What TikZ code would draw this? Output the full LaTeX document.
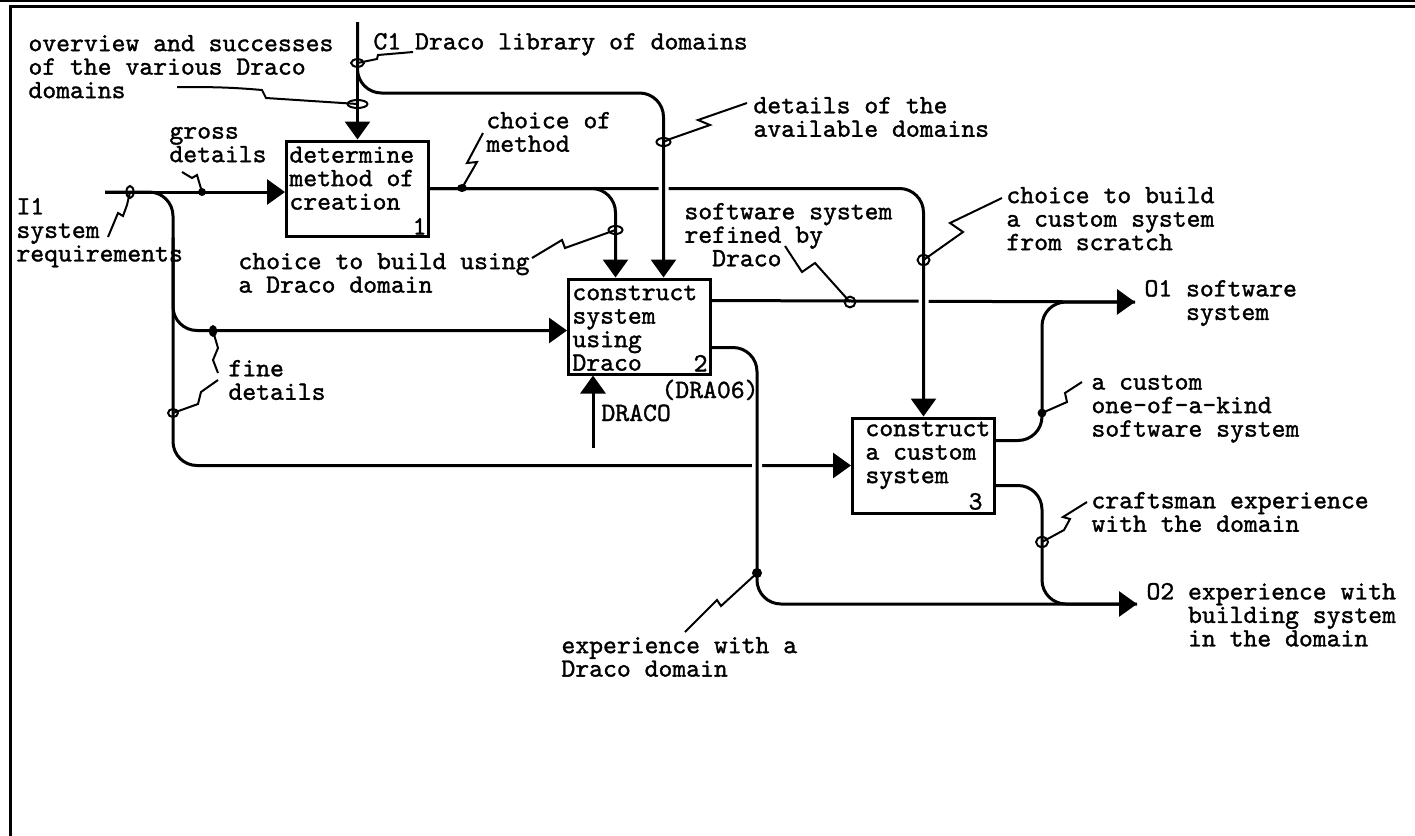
\documentclass[tikz,border=0pt]{standalone}
\usepackage{fontspec}
\setmonofont[FakeBold=1.3]{lmmono10-regular.otf}
\usetikzlibrary{arrows.meta,calc}

\begin{document}
\begin{tikzpicture}[x=0.5pt,y=-0.5pt,
    >={Triangle[length=9pt,width=12.5pt]},line width=1.5pt,
    box/.style={draw,line width=1.5pt,inner sep=0,minimum width=71pt,minimum height=47.5pt},
    lbl/.style={anchor=north west,inner sep=0,align=left,execute at begin node=\strut,
        font=\fontsize{13.2}{11.75}\selectfont\ttfamily},
    num/.style={lbl,anchor=base east},
    sq/.style={line width=1pt},
    over/.style={preaction={draw=white,line width=5pt,-,shorten <=2pt,shorten >=9pt}}]
    \useasboundingbox (0,0) rectangle (1415,836);
    % frame
    \draw[line width=1.2pt] (0,1) -- (1415,1);
    \draw (10,836) -- (10,6) -- (1415,6);

    % activities
    \node[box] (b1) at (357.5,188.5) {};
    \node[box] (b2) at (639.5,326.5) {};
    \node[box] (b3) at (923.5,465.5) {};
    \node[lbl] (t1) at ($(b1.north west)+(3,5.5)$) {determine\\method of\\creation};
    \node[lbl] (t2) at ($(b2.north west)+(4,6.5)$) {construct\\system\\using\\Draco};
    \node[lbl] (t3) at ($(b3.north west)+(13,3.5)$) {construct\\a custom\\system};
    \node[num] (n1) at ($(b1.south east)+(-2,-3)$) {1};
    \node[num] (n2) at ($(b2.south east)+(-3,-4)$) {2};
    \node[num] (n3) at ($(b3.south east)+(-12,-5)$) {3};

    % ends of the arrows
    \coordinate (c1) at (357.5,22);
    \coordinate (c1b) at (663.5,93);
    \coordinate (i1) at (105,192);
    \coordinate (iv) at (173,192);
    \coordinate (o1) at (1135,302);
    \coordinate (o2) at (1137,604);
    \coordinate (mech) at (593,448);

    % outputs to O1
    \draw[->] ($(b2.north east)+(0,23)$) -- (o1);
    \draw[rounded corners=12pt] ($(b3.north east)+(0,24)$) -| (1042,302) -- (o1);
    % choice of method
    \draw[->,rounded corners=12pt,over] (b1.east) -| (b3.north);
    \draw[->,rounded corners=12pt] (b1.east) -| ($(b2.north)+(-24,0)$);
    % C1
    \draw[->,rounded corners=12pt,over] (c1) |- (c1b) -- (c1b |- b2.north);
    \draw[->] (c1) -- (b1.north);
    % I1
    \draw[->] (i1) -- (b1.west |- i1);
    \draw[->,rounded corners=12pt] (i1) -| (iv |- b3.west) -- (b3.west);
    \draw[->,rounded corners=12pt] (iv |- b1.south) -- (173,330.5) -- ([yshift=-2pt]b2.west);
    % outputs to O2
    \draw[->,rounded corners=12pt,over] ($(b2.north east)+(0,70)$) -| (757,604) -- (o2);
    \draw[rounded corners=12pt] ($(b3.north east)+(0,69)$) -| (1042,604) -- (o2);
    % mechanism
    \draw[->] (mech) -- (mech |- b2.south);

    % labels
    \node[lbl] (l-ov) at (27,33.5) {overview and successes\\of the various Draco\\domains};
    \node[lbl] (l-c1) at (372,31.5) {C1 Draco library of domains};
    \node[lbl] (l-det) at (752,95.5) {details of the\\available domains};
    \node[lbl] (l-gross) at (168,125.5) {gross\\details};
    \node[lbl] (l-meth) at (485,110.5) {choice of\\method};
    \node[lbl] (l-i1) at (15,196.5) {I1\\system\\requirements};
    \node[lbl] (l-using) at (237,251.5) {choice to build using\\a Draco domain};
    \node[lbl] (l-ref) at (683,201.5) {software system\\refined by\\\phantom{so}Draco};
    \node[lbl] (l-scr) at (1005,185.5) {choice to build\\a custom system\\from scratch};
    \node[lbl] (l-o1) at (1143,278.5) {O1 software\\\phantom{O1 }system};
    \node[lbl] (l-kind) at (1090,373.5) {a custom\\one-of-a-kind\\software system};
    \node[lbl] (l-fine) at (227,358.5) {fine\\details};
    \node[lbl] (l-craft) at (1090,490.5) {craftsman experience\\with the domain};
    \node[lbl] (l-o2) at (1145,581.5) {O2 experience with\\\phantom{O2 }building system\\\phantom{O2 }in the domain};
    \node[lbl] (l-exp) at (560,635.5) {experience with a\\Draco domain};
    \node[lbl,anchor=base west] (l-draco) at (600,421) {DRACO};
    \node[lbl,anchor=base west] (l-dra) at (660,398) {(DRA06)};

    % squiggles
    \draw[sq] (413,52) -- (378,55) -- (377,59) -- (357.5,63);
    \draw[sq] (357.5,63) ellipse[x radius=3.2pt,y radius=1.9pt];
    \draw[sq] (177,87) to[out=0,in=175] (262,90) -- (266,98) -- (357.5,104);
    \draw[sq] (357.5,104) ellipse[x radius=5pt,y radius=2pt];
    \draw[sq] (108,237) -- (118,213) -- (123,216) -- (127,205) -- (130,192);
    \draw[sq] (130,192) ellipse[x radius=1.8pt,y radius=3pt];
    \draw[sq] (182,172) -- (192,178) -- (197,175) -- (202,192);
    \fill (202,192) circle[radius=2pt];
    \draw[sq] (483,133) -- (467,163) -- (477,162) -- (462,188);
    \fill (462,188) ellipse[x radius=2.5pt,y radius=2pt];
    \draw[sq] (747,103) -- (698,120) -- (710,125) -- (670,139) -- (663.5,142);
    \draw[sq] (663.5,142) ellipse[x radius=3.5pt,y radius=2pt];
    \draw[sq] (532,258) -- (562,240) -- (565,248) -- (593,238) -- (615.5,230);
    \draw[sq] (615.5,230) ellipse[x radius=3.5pt,y radius=2pt];
    \draw[sq] (785,246) -- (802,272) -- (815,263) -- (850,302);
    \draw[sq] (850,302) circle[radius=2.7pt];
    \draw[sq] (1002,198) -- (950,223) -- (963,232) -- (923.5,260);
    \draw[sq] (923.5,260) ellipse[x radius=3pt,y radius=2.5pt];
    \draw[sq] (1082,382) -- (1065,393) -- (1067,402) -- (1042,413);
    \fill (1042,413) circle[radius=2.2pt];
    \draw[sq] (1087,502) -- (1063,517) -- (1070,519) -- (1064,530) -- (1042,542);
    \draw[sq] (1042,542) ellipse[x radius=3pt,y radius=2.5pt];
    \draw[sq] (685,632) -- (717,600) -- (721,606) -- (757,573);
    \fill (757,573) circle[radius=2.5pt];
    \draw[sq] (218,373) -- (213,360) -- (218,348) -- (213,331);
    \fill (213,331) ellipse[x radius=2pt,y radius=3pt];
    \draw[sq] (218,380) -- (201,392) -- (198,404) -- (173,413);
    \draw[sq] (173,413) ellipse[x radius=2.5pt,y radius=2pt];
\end{tikzpicture}
\end{document}
